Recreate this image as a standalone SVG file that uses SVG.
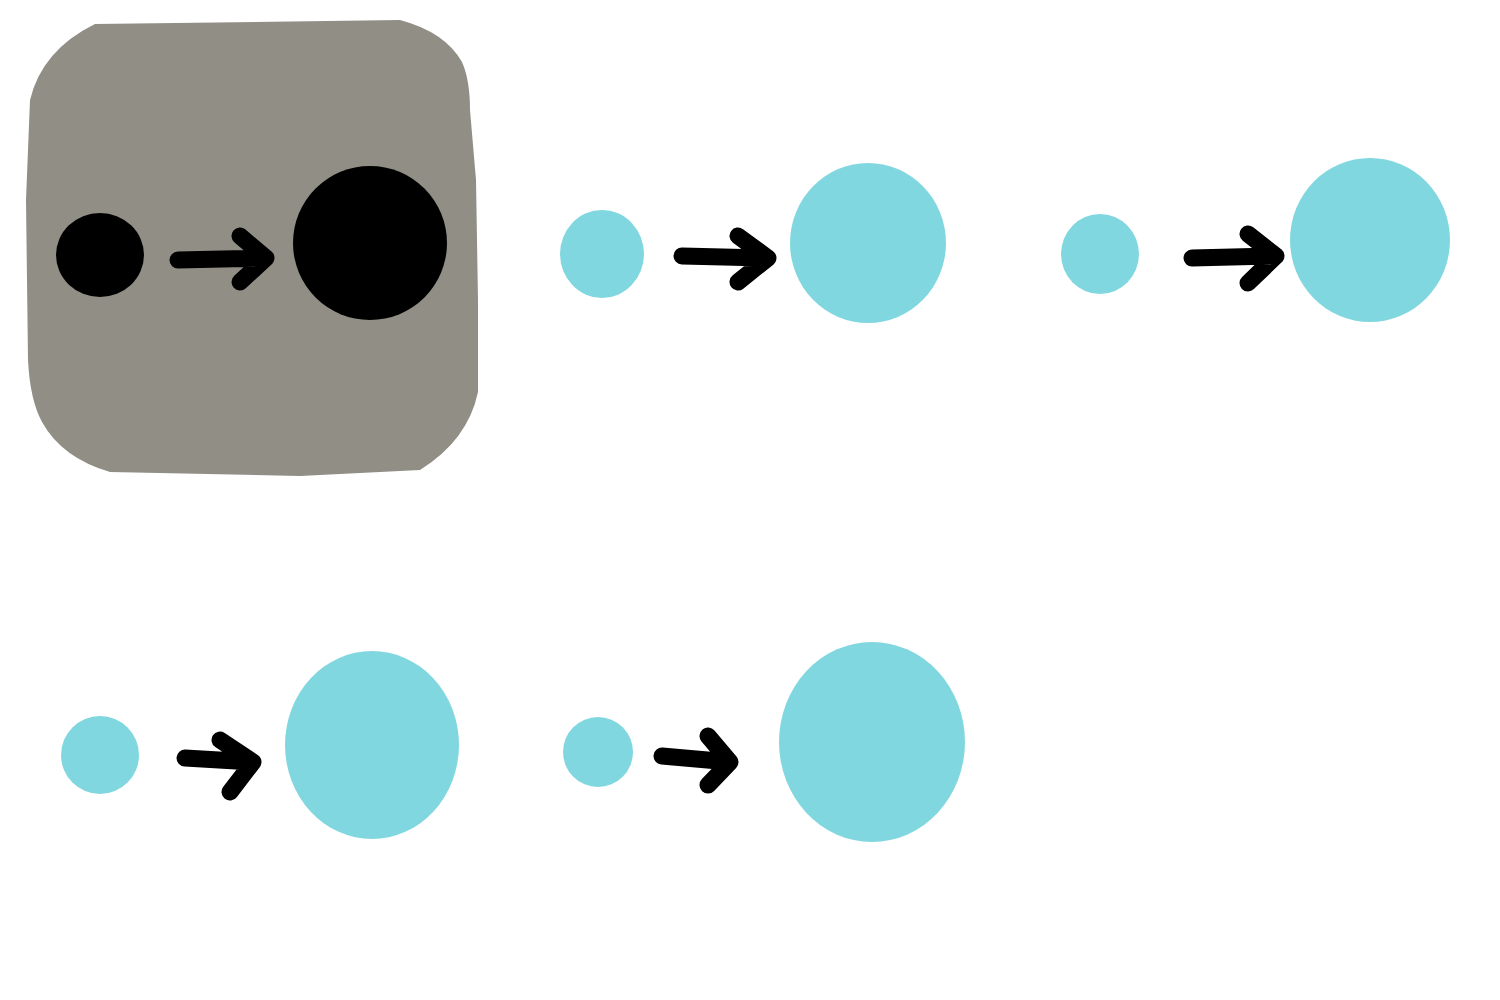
<svg xmlns="http://www.w3.org/2000/svg" width="1500" height="1000" viewBox="0 0 1500 1000">
<style>
.dot{fill:#81d7df}
.blk{fill:#000}
.arr{fill:none;stroke:#000;stroke-width:17;stroke-linecap:round;stroke-linejoin:round}
</style>
<rect width="1500" height="1000" fill="#fff"/>
<g id="frame">
<path d="M95,24 L400,20 Q445,32 462,62 Q470,80 470,110 L476,180 L478,300 L478,392 Q468,440 420,470 L300,476 L110,472 Q62,458 42,422 Q30,400 28,360 L26,200 L30,100 Q42,50 95,24 Z" fill="#918e85"/>
</g>
<g id="n1"><ellipse class="blk" cx="100" cy="255" rx="44" ry="42"/></g>
<g id="n2"><ellipse class="blk" cx="370" cy="243" rx="77" ry="77"/></g>
<g id="n3"><ellipse class="dot" cx="602" cy="254" rx="42" ry="44"/></g>
<g id="n4"><ellipse class="dot" cx="868" cy="243" rx="78" ry="80"/></g>
<g id="n5"><ellipse class="dot" cx="1100" cy="254" rx="39" ry="40"/></g>
<g id="n6"><ellipse class="dot" cx="1370" cy="240" rx="80" ry="82"/></g>
<g id="n7"><ellipse class="dot" cx="100" cy="755" rx="39" ry="39"/></g>
<g id="n8"><ellipse class="dot" cx="372" cy="745" rx="87" ry="94"/></g>
<g id="n9"><ellipse class="dot" cx="598" cy="752" rx="35" ry="35"/></g>
<g id="n10"><ellipse class="dot" cx="872" cy="742" rx="93" ry="100"/></g>
<g id="connectors">
<path class="arr" d="M178,260 L266,258 M240,236 L266,258 L240,282"/>
<path class="arr" d="M682,256 L768,258 M738,236 L768,258 L738,282"/>
<path class="arr" d="M1192,258 L1276,256 M1248,234 L1276,256 L1248,283"/>
<path class="arr" d="M185,758 L253,762 M220,740 L253,762 L230,792"/>
<path class="arr" d="M662,756 L730,762 M708,736 L730,762 L708,785"/>
</g>
</svg>
